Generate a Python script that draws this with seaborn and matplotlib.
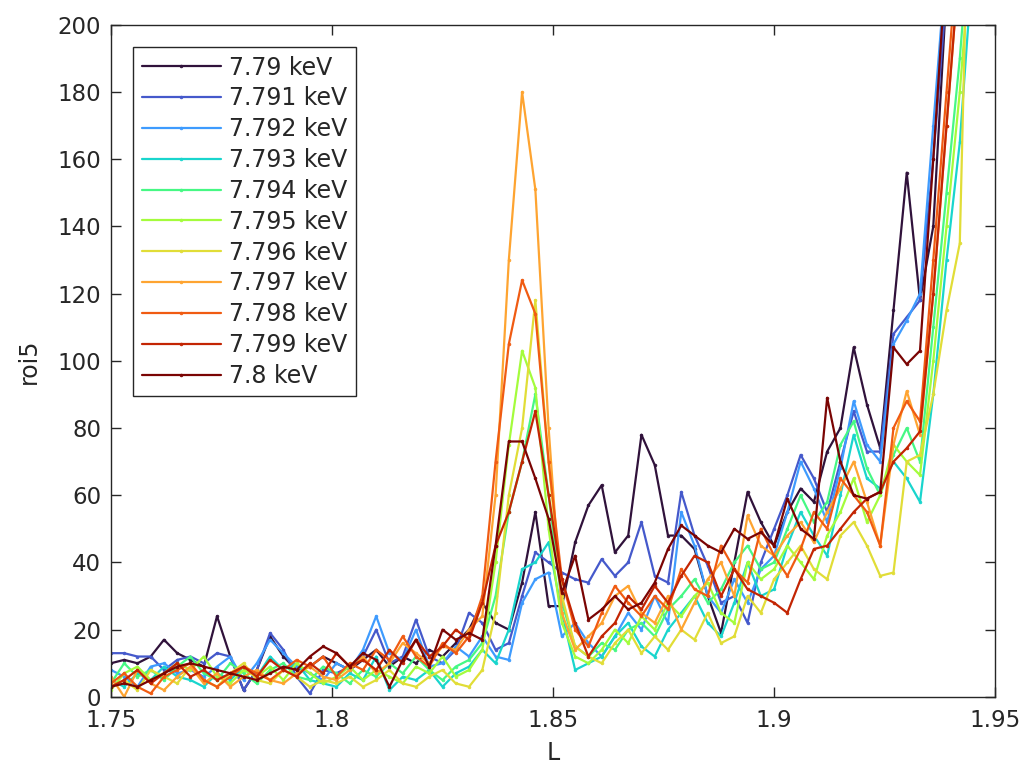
import numpy as np
import pandas as pd
import matplotlib
matplotlib.use("Agg")
import matplotlib.pyplot as plt
import seaborn as sns

# ---------------- data ----------------
L = [1.750, 1.753, 1.756, 1.759, 1.762, 1.765, 1.768, 1.771, 1.774, 1.777,
     1.780, 1.783, 1.786, 1.789, 1.792, 1.795, 1.798, 1.801, 1.804, 1.807,
     1.810, 1.813, 1.816, 1.819, 1.822, 1.825, 1.828, 1.831, 1.834, 1.837,
     1.840, 1.843, 1.846, 1.849, 1.852, 1.855, 1.858, 1.861, 1.864, 1.867,
     1.870, 1.873, 1.876, 1.879, 1.882, 1.885, 1.888, 1.891, 1.894, 1.897,
     1.900, 1.903, 1.906, 1.909, 1.912, 1.915, 1.918, 1.921, 1.924, 1.927,
     1.930, 1.933, 1.936, 1.939, 1.942, 1.945]

labels = ["7.79 keV", "7.791 keV", "7.792 keV", "7.793 keV", "7.794 keV",
          "7.795 keV", "7.796 keV", "7.797 keV", "7.798 keV", "7.799 keV",
          "7.8 keV"]

roi_7790 = [10, 11, 10, 12, 17, 13, 11, 9, 24, 12,
            2, 8, 18, 12, 8, 9, 12, 10, 8, 11,
            14, 9, 12, 10, 14, 12, 16, 20, 28, 22,
            20, 34, 55, 27, 27, 46, 57, 63, 43, 48,
            78, 69, 48, 48, 44, 30, 19, 40, 61, 52,
            45, 55, 62, 58, 73, 80, 104, 87, 74, 115,
            156, 118, 140, 210, 260, 300]
roi_7791 = [13, 13, 12, 12, 8, 11, 12, 10, 13, 12,
            2, 8, 19, 14, 6, 1, 8, 7, 9, 12,
            20, 10, 12, 23, 12, 10, 14, 25, 22, 14,
            16, 30, 43, 40, 37, 35, 34, 41, 36, 40,
            52, 36, 34, 61, 48, 39, 28, 30, 22, 40,
            50, 60, 72, 65, 55, 70, 85, 73, 73, 108,
            113, 118, 160, 210, 260, 300]
roi_7792 = [8, 6, 3, 9, 10, 7, 8, 6, 9, 12,
            5, 10, 17, 13, 9, 7, 5, 10, 8, 14,
            24, 13, 11, 20, 9, 10, 15, 12, 18, 12,
            11, 28, 35, 37, 18, 22, 16, 12, 18, 25,
            20, 30, 22, 55, 45, 30, 25, 35, 28, 38,
            42, 55, 70, 62, 52, 68, 88, 75, 70, 105,
            112, 120, 170, 220, 270, 320]
roi_7793 = [5, 3, 7, 5, 9, 6, 5, 3, 7, 5,
            9, 6, 12, 8, 10, 5, 4, 3, 7, 5,
            12, 2, 6, 5, 8, 3, 7, 9, 14, 10,
            20, 38, 40, 46, 25, 8, 10, 12, 18, 22,
            15, 12, 20, 25, 30, 22, 18, 28, 40, 30,
            32, 45, 55, 48, 42, 60, 78, 65, 62, 70,
            65, 58, 90, 130, 165, 220]
roi_7794 = [4, 10, 6, 8, 5, 9, 12, 7, 5, 10,
            7, 4, 8, 10, 6, 5, 9, 7, 4, 8,
            6, 10, 7, 12, 8, 5, 9, 11, 16, 30,
            55, 70, 90, 60, 28, 15, 12, 16, 14, 20,
            22, 18, 26, 30, 35, 28, 32, 40, 45, 38,
            40, 50, 60, 52, 58, 75, 82, 68, 60, 72,
            80, 70, 110, 150, 190, 240]
roi_7795 = [2, 7, 9, 5, 7, 10, 8, 12, 6, 4,
            8, 6, 9, 5, 10, 7, 4, 6, 9, 5,
            8, 6, 4, 9, 7, 12, 6, 8, 14, 40,
            75, 103, 92, 50, 22, 12, 10, 14, 20, 16,
            24, 20, 28, 24, 30, 34, 25, 22, 40, 35,
            38, 45, 40, 35, 48, 55, 65, 52, 60, 75,
            70, 66, 100, 140, 180, 230]
roi_7796 = [3, 5, 2, 8, 6, 4, 9, 5, 3, 7,
            10, 5, 4, 8, 6, 3, 5, 4, 6, 3,
            5, 8, 4, 3, 6, 8, 4, 3, 8, 25,
            60, 80, 118, 70, 30, 15, 12, 10, 16, 20,
            13, 18, 14, 20, 17, 25, 16, 18, 30, 25,
            35, 40, 45, 38, 35, 48, 52, 45, 36, 37,
            70, 72, 90, 115, 135, 300]
roi_7797 = [6, 0, 8, 4, 2, 6, 9, 4, 7, 3,
            6, 8, 5, 4, 7, 9, 6, 5, 8, 12,
            7, 10, 16, 13, 10, 15, 14, 20, 24, 60,
            130, 180, 151, 80, 25, 14, 18, 22, 30, 33,
            25, 22, 30, 20, 28, 35, 40, 30, 54, 45,
            42, 48, 52, 46, 55, 62, 70, 58, 45, 75,
            91, 78, 120, 170, 220, 280]
roi_7798 = [4, 7, 3, 1, 6, 8, 10, 5, 3, 6,
            9, 7, 5, 8, 11, 9, 12, 6, 10, 8,
            14, 11, 18, 12, 9, 16, 13, 18, 30, 70,
            105, 124, 114, 70, 35, 20, 15, 25, 33, 28,
            24, 30, 26, 38, 32, 30, 45, 38, 34, 50,
            42, 36, 44, 55, 50, 65, 60, 55, 45, 80,
            88, 82, 130, 180, 230, 290]
roi_7799 = [3, 5, 8, 4, 7, 10, 6, 8, 5, 7,
            9, 6, 11, 8, 6, 10, 7, 13, 9, 11,
            8, 14, 10, 17, 12, 15, 20, 17, 28, 45,
            55, 70, 85, 60, 35, 22, 12, 18, 22, 30,
            26, 33, 28, 36, 42, 40, 30, 38, 32, 30,
            28, 25, 35, 44, 45, 50, 55, 59, 61, 70,
            74, 79, 120, 170, 220, 280]
roi_7800 = [3, 4, 3, 5, 7, 9, 10, 9, 8, 7,
            6, 5, 7, 9, 8, 12, 15, 13, 9, 13,
            11, 3, 11, 17, 9, 20, 17, 19, 17, 45,
            76, 76, 65, 53, 31, 42, 23, 26, 30, 26,
            28, 34, 44, 51, 48, 45, 43, 50, 47, 49,
            45, 59, 50, 47, 89, 70, 60, 59, 61, 104,
            99, 103, 160, 220, 270, 320]

series = [roi_7790, roi_7791, roi_7792, roi_7793, roi_7794, roi_7795,
          roi_7796, roi_7797, roi_7798, roi_7799, roi_7800]

x_ticks = [1.75, 1.8, 1.85, 1.9, 1.95]
x_ticklabels = ["1.75", "1.8", "1.85", "1.9", "1.95"]
y_ticks = [0, 20, 40, 60, 80, 100, 120, 140, 160, 180, 200]

# ---------------- long table ----------------
frames = []
for lab, vals in zip(labels, series):
    frames.append(pd.DataFrame({"L": L, "roi5": vals, "energy": lab}))
df = pd.concat(frames, ignore_index=True)

# ---------------- style ----------------
sns.set_theme(style="ticks")
plt.rcParams["font.family"] = ["DejaVu Sans"]
plt.rcParams.update({
    "xtick.direction": "in", "ytick.direction": "in",
    "xtick.top": True, "ytick.right": True,
    "xtick.major.size": 7, "ytick.major.size": 7,
    "xtick.major.width": 1.0, "ytick.major.width": 1.0,
    "axes.edgecolor": "#262626", "axes.linewidth": 1.0,
    "xtick.color": "#262626", "ytick.color": "#262626",
    "axes.labelcolor": "#262626", "text.color": "#262626",
})

cmap = matplotlib.colormaps["turbo"]
palette = [cmap(v) for v in np.linspace(0, 1, len(labels))]

fig = plt.figure(figsize=(10.27, 7.76), dpi=100)
ax = fig.add_axes([0.108, 0.102, 0.861, 0.866])

sns.lineplot(data=df, x="L", y="roi5", hue="energy", hue_order=labels,
             palette=palette, estimator=None, sort=False, legend=False,
             marker=".", markersize=4, markeredgecolor=None,
             markeredgewidth=0.5, linewidth=1.6, ax=ax)

ax.set_xlim(1.75, 1.95)
ax.set_ylim(0, 200)
ax.set_xticks(x_ticks)
ax.set_xticklabels(x_ticklabels)
ax.set_yticks(y_ticks)
ax.tick_params(axis="x", labelsize=16.5, pad=9)
ax.tick_params(axis="y", labelsize=16.5, pad=7)
ax.set_xlabel("L", fontsize=17, labelpad=6)
ax.set_ylabel("roi5", fontsize=17, labelpad=12)
for s in ax.spines.values():
    s.set_visible(True)

handles = ax.get_lines()[:len(labels)]
leg = ax.legend(handles, labels, loc="upper left", fontsize=17,
                frameon=True, fancybox=False, edgecolor="#262626",
                framealpha=1, handlelength=3.35, handletextpad=0.35,
                labelspacing=0.29, borderaxespad=0.95, borderpad=0.35)
leg.get_frame().set_linewidth(1.0)

fig.savefig("out.png", dpi=100)
